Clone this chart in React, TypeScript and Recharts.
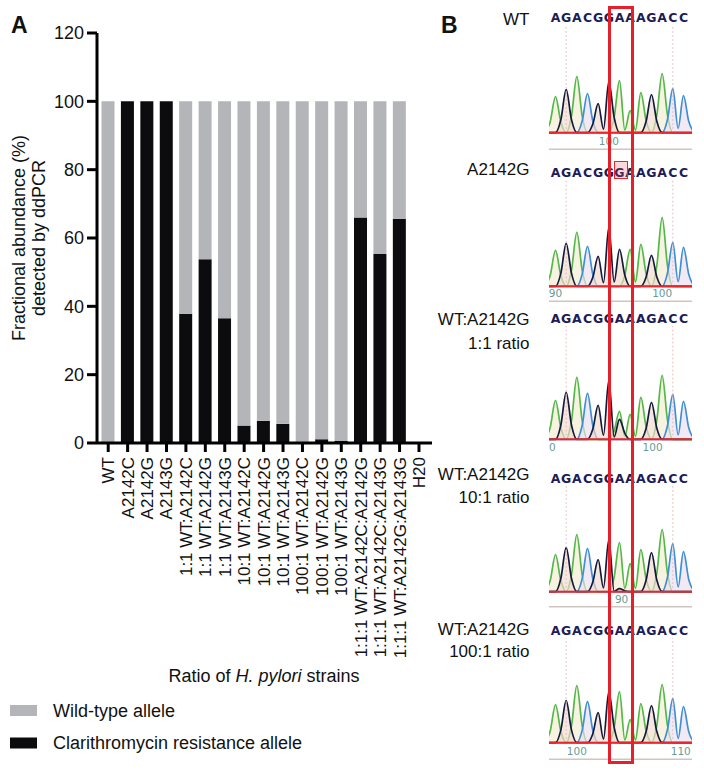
import React from 'react';
import { BarChart, Bar, XAxis, YAxis, Legend, ComposedChart, Area, ReferenceLine } from 'recharts';

const FONT = '"Liberation Sans", Arial, Helvetica, sans-serif';
const SEQFONT = '"DejaVu Sans", Verdana, sans-serif';

// ---------- Panel A data ----------
const categories = [
  'WT', 'A2142C', 'A2142G', 'A2143G',
  '1:1 WT:A2142C', '1:1 WT:A2142G', '1:1 WT:A2143G',
  '10:1 WT:A2142C', '10:1 WT:A2142G', '10:1 WT:A2143G',
  '100:1 WT:A2142C', '100:1 WT:A2142G', '100:1 WT:A2143G',
  '1:1:1 WT:A2142C:A2142G', '1:1:1 WT:A2142C:A2143G', '1:1:1 WT:A2142G:A2143G',
  'H20',
];
const resistanceAllele = [0, 100, 100, 100, 37.8, 53.8, 36.5, 5.1, 6.5, 5.6, 0.2, 1.1, 0.6, 66.0, 55.3, 65.6, 0];
const wildTypeAllele = [100, 0, 0, 0, 62.2, 46.2, 63.5, 94.9, 93.5, 94.4, 99.8, 98.9, 99.4, 34.0, 44.7, 34.4, 0];
const yTicks = [0, 20, 40, 60, 80, 100, 120];

const barData = categories.map((name, i) => ({
  name,
  resistance: resistanceAllele[i],
  wildType: wildTypeAllele[i],
}));

// ---------- Panel B data ----------
const seqWT = ['A', 'G', 'A', 'C', 'G', 'G', 'A', 'A', 'A', 'G', 'A', 'C', 'C'];
const seqMut = ['A', 'G', 'A', 'C', 'G', 'G', 'G', 'A', 'A', 'G', 'A', 'C', 'C'];

const wtPeaks = [36, 43, 56, 39, 29, 51, 52, 22, 40, 38, 59, 44, 37];
const mutPeaks = [36, 43, 54, 40, 30, 59, 37, 37, 42, 31, 69, 44, 39];
const ratio1Peaks = [39, 47, 62, 46, 34, 59, 28, 25, 42, 37, 64, 45, 38];
const ratio10Peaks = [37, 44, 57, 43, 32, 52, 49, 28, 42, 39, 62, 48, 40];
const ratio100Peaks = [38, 42, 57, 41, 30, 51, 51, 23, 39, 37, 58, 44, 36];

const noMinor = [0, 0, 0, 0, 0, 0, 0, 0, 0, 0, 0, 0, 0];
const ratio1MinorG = [0, 0, 0, 0, 0, 0, 20, 0, 0, 0, 0, 0, 0];
const ratio10MinorG = [0, 0, 0, 0, 0, 0, 3, 0, 0, 0, 0, 0, 0];

const wtNumPos = [5];
const wtNumLab = ['100'];
const mutNumPos = [0, 10];
const mutNumLab = ['90', '100'];
const r1NumPos = [-0.3, 9.1];
const r1NumLab = ['0', '100'];
const r10NumPos = [6.2];
const r10NumLab = ['90'];
const r100NumPos = [2, 11.75];
const r100NumLab = ['100', '110'];

const X_DOMAIN: [number, number] = [-0.61, 12.8];
const TAIL = 0.3; // share of a peak's height still present half a base away

const buildTrace = (seq: string[], peaks: number[], minorG: number[]) => {
  const chans = ['A', 'C', 'G'];
  const valueAt = (i: number, ch: string) => {
    if (i < 0 || i >= seq.length) return 0;
    if (seq[i] === ch) return peaks[i];
    if (ch === 'G') return minorG[i];
    return 0;
  };
  const rows: any[] = [];
  for (let i = -1; i <= seq.length; i++) {
    const row: any = { x: i };
    chans.forEach((ch) => (row[ch] = valueAt(i, ch)));
    rows.push(row);
    if (i < seq.length) {
      const mid: any = { x: i + 0.5 };
      chans.forEach((ch) => {
        const l = valueAt(i, ch);
        const r = valueAt(i + 1, ch);
        mid[ch] = l > 0 && r > 0 ? TAIL * 0.4 * Math.min(l, r) : TAIL * (l + r);
      });
      rows.push(mid);
    }
  }
  return rows;
};

// ---------- Panel A custom pieces ----------
const CatTick = (props: any) => {
  const { x, y, payload } = props;
  return (
    <text
      x={x}
      y={y}
      transform={`rotate(-90 ${x} ${y})`}
      textAnchor="end"
      dy="0.35em"
      fontSize={17}
      fontFamily={FONT}
      fill="#111"
    >
      {payload.value}
    </text>
  );
};

const YLabel = () => (
  <g>
    <text transform="translate(25 238) rotate(-90)" textAnchor="middle" fontSize={18} fontFamily={FONT} fill="#111">
      Fractional abundance (%)
    </text>
    <text transform="translate(45 238) rotate(-90)" textAnchor="middle" fontSize={18} fontFamily={FONT} fill="#111">
      detected by ddPCR
    </text>
  </g>
);

const XTitle = () => (
  <text x={264} y={682} textAnchor="middle" fontSize={18} fontFamily={FONT} fill="#111">
    Ratio of <tspan fontStyle="italic">H. pylori</tspan> strains
  </text>
);

const LegendContent = (props: any) => {
  const items = [...(props.payload || [])].reverse();
  return (
    <svg width={440} height={70} style={{ display: 'block' }}>
      {items.map((it: any, i: number) => (
        <g key={i}>
          <rect x={10} y={10 + i * 32.5} width={27} height={11} fill={it.color} />
          <text x={53} y={21.7 + i * 32} fontSize={18} fontFamily={FONT} fill="#111">
            {it.value}
          </text>
        </g>
      ))}
    </svg>
  );
};

// ---------- Panel B custom pieces ----------
const LetterTick = (props: any) => {
  const { x, y, payload, letters } = props;
  return (
    <text x={x} y={y} textAnchor="middle" fontFamily={SEQFONT} fontWeight="bold" fontSize={12.5} fill="#1c1c58">
      {letters[payload.index] ?? ''}
    </text>
  );
};

const NumTick = (props: any) => {
  const { x, y, payload, labels } = props;
  return (
    <text x={x} y={y - 4} textAnchor="middle" fontFamily={SEQFONT} fontSize={10.5} fill="#6a9c94">
      {labels[payload.index] ?? ''}
    </text>
  );
};

const GREEN = '#52b847';
const NAVY = '#141a3c';
const BLUE = '#3f8fd6';

const Chromatogram = (p: any) => {
  const { top, base, sep, seq, peaks, minorG, numPos, numLab, sepLine } = p;
  const height = sep - top + 1;
  const plotTop = top + 19;
  const yMax = base - plotTop;
  const yMin = base - sep;
  const data = buildTrace(seq, peaks, minorG);
  return (
    <div style={{ position: 'absolute', left: 549, top }}>
      <ComposedChart width={143} height={height} data={data} margin={{ top: 0, right: 0, bottom: 0, left: 0 }}>
        <XAxis
          xAxisId="top"
          orientation="top"
          type="number"
          dataKey="x"
          domain={X_DOMAIN}
          allowDataOverflow
          ticks={seq.map((_: string, i: number) => i)}
          interval={0}
          height={19}
          tickSize={0}
          tickMargin={3}
          axisLine={false}
          tickLine={false}
          tick={<LetterTick letters={seq} />}
        />
        <XAxis
          xAxisId="bot"
          type="number"
          dataKey="x"
          domain={X_DOMAIN}
          allowDataOverflow
          ticks={numPos}
          interval={0}
          height={1}
          tickSize={0}
          tickMargin={0}
          axisLine={sepLine ? { stroke: '#d2c4be', strokeWidth: 1.5 } : false}
          tickLine={false}
          tick={<NumTick labels={numLab} />}
        />
        <YAxis hide type="number" domain={[yMin, yMax]} allowDataOverflow />
        <ReferenceLine xAxisId="bot" segment={[{ x: 1, y: 0 }, { x: 1, y: yMax }]} stroke="#e2b3b3" strokeDasharray="1.5 2.5" />
        <ReferenceLine xAxisId="bot" segment={[{ x: 11, y: 0 }, { x: 11, y: yMax }]} stroke="#e2b3b3" strokeDasharray="1.5 2.5" />
        <Area xAxisId="bot" type="monotone" dataKey="A" stroke={GREEN} strokeWidth={1.7} fill="#f3ecd0" fillOpacity={0.65} baseValue={0} dot={false} activeDot={false} isAnimationActive={false} />
        <Area xAxisId="bot" type="monotone" dataKey="C" stroke={BLUE} strokeWidth={1.7} fill="#e9def0" fillOpacity={0.65} baseValue={0} dot={false} activeDot={false} isAnimationActive={false} />
        <Area xAxisId="bot" type="monotone" dataKey="G" stroke={NAVY} strokeWidth={1.7} fill="#f0d8cd" fillOpacity={0.65} baseValue={0} dot={false} activeDot={false} isAnimationActive={false} />
        <ReferenceLine xAxisId="bot" y={0} stroke="#e8262b" strokeWidth={2} />
      </ComposedChart>
    </div>
  );
};

const panels = [
  { top: 6, base: 132.7, sep: 149.3, seq: seqWT, peaks: wtPeaks, minorG: noMinor, numPos: wtNumPos, numLab: wtNumLab, sepLine: true },
  { top: 160.7, base: 286, sep: 301, seq: seqMut, peaks: mutPeaks, minorG: noMinor, numPos: mutNumPos, numLab: mutNumLab, sepLine: true },
  { top: 307, base: 439.3, sep: 455, seq: seqWT, peaks: ratio1Peaks, minorG: ratio1MinorG, numPos: r1NumPos, numLab: r1NumLab, sepLine: false },
  { top: 467, base: 591.7, sep: 606.7, seq: seqWT, peaks: ratio10Peaks, minorG: ratio10MinorG, numPos: r10NumPos, numLab: r10NumLab, sepLine: true },
  { top: 619, base: 742.7, sep: 759.3, seq: seqWT, peaks: ratio100Peaks, minorG: noMinor, numPos: r100NumPos, numLab: r100NumLab, sepLine: true },
];

export default function App() {
  return (
    <div style={{ position: 'absolute', left: 0, top: 0, width: 704, height: 774, background: '#fff', overflow: 'hidden', fontFamily: FONT }}>
      <svg style={{ position: 'absolute', left: 0, top: 0 }} width={704} height={774}>
        <text x={11} y={32.5} fontSize={23} fontWeight="bold" fontFamily={FONT} fill="#111">A</text>
        <text x={441} y={33.3} fontSize={23} fontWeight="bold" fontFamily={FONT} fill="#111">B</text>
        <g fontSize={17} fontFamily={FONT} fill="#111" textAnchor="end">
          <text x={529.5} y={25}>WT</text>
          <text x={529.5} y={175}>A2142G</text>
          <text x={529.5} y={325}>WT:A2142G</text>
          <text x={529.5} y={349}>1:1 ratio</text>
          <text x={529.5} y={480}>WT:A2142G</text>
          <text x={529.5} y={503}>10:1 ratio</text>
          <text x={529.5} y={635}>WT:A2142G</text>
          <text x={529.5} y={657}>100:1 ratio</text>
        </g>
      </svg>

      <div style={{ position: 'absolute', left: 0, top: 0 }}>
        <BarChart width={440} height={774} data={barData} margin={{ top: 33, right: 8, bottom: 0, left: 0 }} barSize={13}>
          <XAxis
            dataKey="name"
            interval={0}
            height={331}
            tick={<CatTick />}
            tickSize={9}
            tickMargin={5}
            axisLine={{ stroke: '#000', strokeWidth: 3 }}
            tickLine={{ stroke: '#000', strokeWidth: 3 }}
            padding={{ left: 1.5, right: 3.3 }}
            label={<XTitle />}
          />
          <YAxis
            width={97}
            domain={[0, 120]}
            ticks={yTicks}
            interval={0}
            tickSize={10}
            tickMargin={3}
            axisLine={{ stroke: '#000', strokeWidth: 3 }}
            tickLine={{ stroke: '#000', strokeWidth: 3 }}
            tick={{ fontSize: 18, fill: '#111', fontFamily: FONT }}
            label={<YLabel />}
          />
          <Legend
            layout="vertical"
            align="center"
            verticalAlign="middle"
            wrapperStyle={{ left: 0, top: 695, width: 440, height: 70 }}
            content={<LegendContent />}
          />
          <Bar dataKey="resistance" name="Clarithromycin resistance allele" stackId="s" fill="#0c0c0e" isAnimationActive={false} />
          <Bar dataKey="wildType" name="Wild-type allele" stackId="s" fill="#b4b5b9" isAnimationActive={false} />
        </BarChart>
      </div>

      {panels.map((p, i) => (
        <Chromatogram key={i} {...p} />
      ))}

      <div style={{ position: 'absolute', left: 614, top: 161, width: 14, height: 18, boxSizing: 'border-box', border: '1.5px solid #e0282e', background: 'rgba(240,80,80,0.22)' }} />
      <div style={{ position: 'absolute', left: 608, top: 6, width: 25.5, height: 758, boxSizing: 'border-box', border: '3px solid #e4202a' }} />
    </div>
  );
}
